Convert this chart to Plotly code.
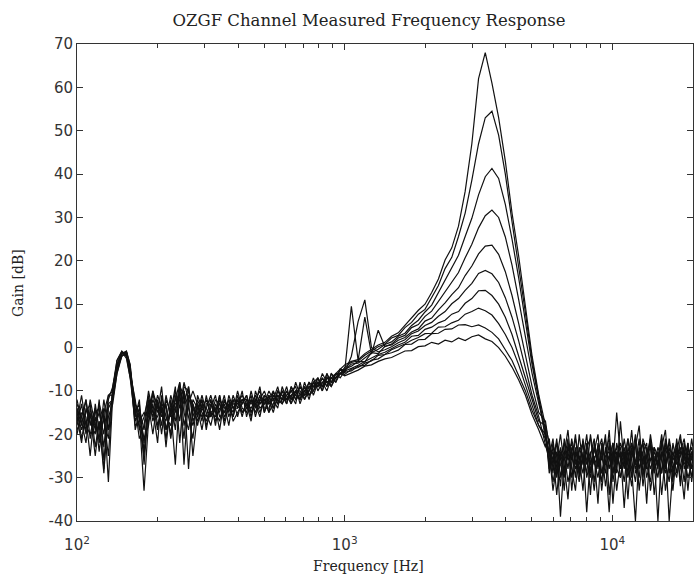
import plotly.graph_objects as go

# Frequency grid (Hz)
freq_low = [100, 104, 108, 112, 117, 121, 126, 131, 136, 141, 147, 153, 158, 165, 171, 178, 185, 192,
            200, 207, 215, 224, 233, 242, 251, 261, 271, 282, 293, 304, 316, 329, 341, 355, 369, 383,
            398, 414, 430, 447, 464, 482, 501, 521, 541, 562, 584, 607, 631, 656, 681, 708, 736, 764,
            794, 825, 858, 891, 926, 962]
freq_mid = [1000, 1059, 1122, 1189, 1259, 1334, 1413, 1496, 1585, 1679, 1778, 1884, 1995, 2113,
            2239, 2371, 2512, 2661, 2818, 2985, 3162, 3350, 3548, 3758, 3981, 4217, 4467, 4732,
            5012, 5309]
freq_high = [5623, 5808, 5998, 6194, 6397, 6607, 6823, 7047, 7278, 7516, 7762, 8017, 8279, 8551,
             8831, 9120, 9419, 9727, 10046, 10375, 10715, 11066, 11429, 11803, 12190, 12589, 13002,
             13428, 13868, 14322, 14791, 15276, 15776, 16293, 16827, 17378, 17947, 18535, 19143,
             19770, 20417]
freq_hz = freq_low + freq_mid + freq_high

# Gain [dB] of each measured channel: low band (60), mid band (30), high band (41)
gain_ch01 = [-14, -18, -12, -21, -16, -24, -15, -11, -10, -4, -1, -1.5, -6, -12, -19, -16,
             -11, -17, -13, -20, -12, -15, -9, -22, -10, -14, -18, -13, -17, -11, -16, -14, -19, -12, -15, -11,
             -14, -10, -16, -12, -13, -9, -15, -11, -14, -10, -12, -9, -13, -10, -12, -8, -11,
             -9, -7, -10, -7, -8, -6, -5,
             -4, -3.2, -2.8, -1.4, -0.3, 0.6, 1.2, 2.6, 3.4, 5.2, 6.8, 8.6, 10, 12.7, 15.8, 20.2, 23, 28, 36, 47,
             62, 68, 61, 53, 43, 31, 21, 9, -2, -11,
             -18, -22, -27, -21, -30, -24, -19, -28, -33, -23, -26, -20, -29, -25, -36, -22, -27, -19, -31, -24,
             -28, -21, -26, -32, -23, -18, -29, -25, -22, -34, -26, -20, -28, -24, -31, -21, -27, -35, -23, -26, -20]
gain_ch02 = [-18, -13, -20, -15, -25, -17, -29, -13, -12, -6, -2, -1, -4, -15, -13, -24,
             -15, -10, -18, -14, -21, -13, -17, -9, -27, -11, -13, -16, -12, -19, -13, -15, -11, -18, -13, -16,
             -11, -15, -13, -17, -10, -13, -12, -15, -10, -13, -10, -13, -9, -12, -11, -10, -8,
             -11, -8, -9, -6, -9, -7, -6,
             -4.6, -3.4, -3.1, -1.8, -0.8, 0.2, 0.8, 2.2, 2.8, 4.6, 5.8, 7.7, 8.8, 11.6, 14.3, 18.2, 20.8, 25.6, 31, 38.6,
             47, 53, 54.5, 49, 40, 29, 19, 8, -3, -12,
             -20, -25, -21, -29, -24, -33, -22, -26, -20, -30, -24, -38, -25, -21, -28, -23, -32, -26, -22, -29,
             -17, -27, -24, -30, -21, -33, -25, -28, -20, -26, -30, -23, -19, -29, -25, -22, -31, -24, -28, -21, -27]
gain_ch03 = [-12, -17, -22, -14, -19, -13, -17, -21, -9, -3, -0.8, -2, -7, -17, -14, -19,
             -12, -14, -22, -11, -16, -18, -12, -8, -15, -19, -12, -14, -19, -13, -12, -17, -14, -13, -18, -12,
             -13, -12, -14, -11, -16, -12, -10, -13, -12, -9, -13, -11, -10, -12, -9, -11, -10,
             -8, -9, -7, -9, -6, -7, -5,
             -5.2, -3.8, -3.6, -2.3, -1.2, -0.4, 0.7, 1.3, 2.6, 3.3, 5.1, 6.3, 8.2, 9.8, 12.7, 15.3, 18.2, 21.3, 25.6, 29.8,
             35.2, 39.4, 41.3, 39, 33, 25, 16, 6, -4, -12,
             -21, -24, -31, -26, -20, -27, -35, -23, -25, -29, -21, -27, -24, -31, -22, -26, -20, -34, -25, -23,
             -30, -26, -21, -28, -40, -24, -22, -27, -31, -23, -25, -29, -22, -26, -33, -24, -20, -28, -25, -30, -23]
gain_ch04 = [-20, -15, -16, -25, -13, -19, -14, -31, -11, -5, -1.2, -1, -5, -13, -16, -33,
             -17, -12, -15, -9, -19, -14, -27, -10, -13, -9, -16, -12, -15, -17, -14, -11, -16, -15, -12, -17,
             -15, -13, -11, -15, -13, -16, -11, -12, -15, -11, -11, -12, -10, -9, -13, -10, -9,
             -10, -8, -8, -10, -7, -6, -7,
             -5.5, 9.5, -3, 7, -1.5, 4, 0.2, 0.8, 2.2, 2.8, 4.6, 5.3, 7.2, 8.4, 10.7, 12.8, 15.2, 17.3, 20.7, 23.8,
             27.6, 30.4, 31.7, 30, 25.5, 19, 11, 2.5, -6, -13,
             -19, -28, -23, -25, -32, -21, -26, -24, -30, -20, -27, -23, -34, -22, -26, -29, -24, -21, -27, -15,
             -25, -31, -23, -26, -20, -28, -24, -36, -22, -27, -24, -29, -21, -25, -28, -23, -32, -22, -26, -24, -29]
gain_ch05 = [-16, -22, -14, -17, -20, -12, -26, -16, -13, -6, -1.5, -0.8, -4, -19, -15, -22,
             -13, -20, -12, -16, -13, -21, -14, -11, -10, -28, -13, -18, -13, -14, -16, -12, -13, -17, -11, -14,
             -12, -16, -12, -13, -11, -14, -13, -10, -12, -14, -9, -12, -11, -13, -8, -12, -10,
             -7, -10, -8, -7, -8, -6, -6,
             -5, -4.3, -3.2, -3.3, -1.2, -1.4, 0.3, 0.6, 1.7, 2.3, 3.6, 4.3, 6.1, 6.8, 8.7, 10.3, 12.2, 13.8, 16.6, 18.8,
             21.6, 23.4, 23.6, 21.5, 17.5, 12, 5.5, -2, -9, -15,
             -17, -23, -29, -22, -26, -24, -31, -27, -21, -25, -33, -22, -27, -24, -20, -29, -26, -38, -23, -27,
             -22, -25, -30, -24, -27, -21, -32, -25, -23, -28, -26, -22, -33, -27, -24, -29, -21, -25, -30, -27, -24]
gain_ch06 = [-13, -16, -19, -12, -18, -21, -12, -19, -10, -4, -1.8, -1.5, -6, -14, -21, -18,
             -10, -15, -16, -12, -23, -12, -19, -9, -11, -16, -21, -11, -14, -16, -12, -18, -12, -14, -13, -15,
             -10, -14, -15, -10, -14, -11, -15, -12, -10, -13, -12, -10, -12, -8, -11, -9, -12,
             -8, -7, -9, -8, -7, -8, -5,
             -5.8, -2, 6, 11, 0, -1, -0.5, 0.2, 1.1, 1.8, 3.2, 3.8, 5.1, 5.8, 7.2, 8.3, 10.1, 11.3, 13.2, 14.8,
             17.1, 17.8, 17, 15, 11.5, 7, 1.5, -4.5, -11, -16,
             -22, -26, -24, -34, -25, -22, -28, -21, -26, -31, -25, -29, -20, -26, -30, -24, -21, -28, -24, -33,
             -26, -23, -29, -22, -26, -30, -21, -24, -28, -25, -40, -24, -27, -23, -29, -25, -24, -31, -22, -28, -25]
gain_ch07 = [-17, -11, -18, -20, -15, -14, -23, -12, -9, -4, -1, -2, -5, -16, -12, -27,
             -14, -11, -13, -18, -11, -16, -10, -14, -8, -12, -25, -15, -11, -15, -18, -13, -15, -11, -16, -13,
             -13, -11, -13, -14, -12, -10, -14, -14, -11, -12, -10, -11, -13, -10, -10, -12, -9,
             -9, -9, -6, -8, -9, -6, -6,
             -5.4, -4.8, -4.1, -3.2, -2.4, -1.6, -1.1, -0.2, 0.6, 1.2, 2.6, 2.8, 4.2, 4.7, 5.7, 6.3, 7.7, 8.3, 10.2, 11.3,
             13.1, 13.2, 12, 10, 7, 3, -2, -7, -12.5, -17,
             -18, -29, -25, -22, -27, -30, -23, -25, -28, -24, -22, -30, -26, -33, -24, -21, -27, -25, -29, -22,
             -26, -24, -35, -23, -28, -25, -22, -30, -26, -23, -28, -21, -26, -31, -22, -27, -25, -23, -33, -24, -26]
gain_ch08 = [-15, -19, -15, -13, -23, -17, -28, -14, -12, -5, -2, -1.2, -6, -18, -17, -15,
             -16, -13, -19, -13, -14, -20, -11, -17, -9, -10, -14, -17, -14, -12, -15, -16, -11, -16, -14, -12,
             -16, -12, -12, -16, -12, -13, -11, -15, -13, -10, -11, -13, -9, -11, -12, -9, -11,
             -10, -7, -9, -7, -7, -7, -6,
             -6.2, -5, -4.6, -3.6, -3.1, -1.8, -1.6, -0.5, 0.2, 0.8, 1.7, 2.3, 3.2, 3.3, 4.7, 4.8, 5.7, 6.3, 7.7, 8.3,
             9.1, 8.5, 7.5, 5.5, 3, 0, -4, -8.5, -13.5, -18,
             -21, -24, -33, -27, -23, -29, -24, -22, -27, -25, -29, -23, -21, -27, -25, -31, -23, -26, -22, -28,
             -30, -24, -27, -19, -29, -26, -24, -22, -33, -27, -23, -26, -29, -21, -26, -24, -28, -26, -22, -31, -23]
gain_ch09 = [-19, -16, -12, -18, -14, -22, -16, -25, -10, -3, -1, -2.5, -7, -13, -15, -21,
             -18, -10, -14, -15, -17, -11, -15, -8, -18, -13, -10, -13, -16, -14, -11, -15, -17, -12, -14, -16,
             -12, -15, -14, -12, -15, -12, -13, -11, -14, -12, -13, -10, -12, -11, -9, -11, -8,
             -9, -8, -10, -6, -8, -7, -6,
             -5.7, -5.4, -4.3, -4.1, -2.9, -2.6, -1.6, -1.2, -0.6, 0.7, 0.8, 1.8, 1.9, 3.2, 3.3, 4.2, 4.3, 5.2, 5.3, 4.8,
             5.2, 4.5, 3.5, 2, -0.5, -3, -6.5, -10, -14.5, -18,
             -20, -27, -22, -30, -24, -26, -21, -33, -24, -27, -22, -26, -30, -23, -27, -25, -29, -22, -36, -25,
             -23, -28, -21, -26, -31, -23, -27, -25, -21, -29, -24, -34, -25, -22, -27, -30, -24, -21, -27, -25, -30]
gain_ch10 = [-14, -21, -17, -16, -18, -15, -20, -11, -11, -5, -1.5, -1, -5, -15, -18, -25,
             -12, -16, -11, -14, -19, -15, -13, -12, -21, -9, -17, -14, -12, -18, -15, -14, -13, -15, -12, -14,
             -14, -13, -11, -15, -12, -15, -12, -13, -12, -11, -12, -12, -11, -10, -12, -10, -10,
             -8, -9, -7, -9, -6, -8, -6,
             -6.5, -5.9, -5.2, -4.3, -4, -3.2, -2.6, -2.3, -1.5, -0.8, -0.7, 0.2, 0.4, 1.2, 0.8, 1.7, 1.3, 2.2, 1.6, 2.5,
             2.9, 2, 1.4, 0, -2, -4.5, -7.5, -11, -15.5, -19,
             -23, -21, -28, -24, -39, -26, -24, -30, -23, -28, -26, -24, -28, -26, -23, -33, -25, -24, -29, -26,
             -24, -37, -25, -22, -27, -24, -30, -23, -26, -24, -27, -25, -23, -40, -28, -26, -23, -27, -25, -23, -28]

channels = [gain_ch01, gain_ch02, gain_ch03, gain_ch04, gain_ch05,
            gain_ch06, gain_ch07, gain_ch08, gain_ch09, gain_ch10]

major_x = [100, 1000, 10000]
major_x_text = ["10<sup>2</sup>", "10<sup>3</sup>", "10<sup>4</sup>"]
minor_x = [200, 300, 400, 500, 600, 700, 800, 900,
           2000, 3000, 4000, 5000, 6000, 7000, 8000, 9000, 20000]
y_ticks = [-40, -30, -20, -10, 0, 10, 20, 30, 40, 50, 60, 70]
y_tick_text = ["-40", "-30", "-20", "-10", "0", "10", "20", "30", "40", "50", "60", "70"]

fig = go.Figure()
for g in channels:
    fig.add_trace(go.Scatter(x=freq_hz, y=g, mode="lines",
                             line=dict(color="#111111", width=1.2), hoverinfo="skip"))

tick_font = dict(family="DejaVu Sans", size=15, color="#333333")
label_font = dict(family="DejaVu Serif", size=14, color="#222222")

fig.update_layout(
    width=694, height=580,
    margin=dict(l=77, r=1, t=44, b=59),
    paper_bgcolor="white", plot_bgcolor="white",
    showlegend=False,
    title=dict(text="OZGF Channel Measured Frequency Response",
               font=dict(family="DejaVu Serif", size=16.5, color="#222222"),
               x=369 / 694, xref="container", xanchor="center",
               y=1 - 20 / 580, yref="container", yanchor="middle"),
    xaxis=dict(type="log", range=[2, 4.30103], showgrid=False, zeroline=False,
               showline=True, linecolor="#333333", linewidth=1, mirror="allticks",
               ticks="inside", ticklen=6, tickcolor="#333333", ticklabelstandoff=10,
               tickvals=major_x, ticktext=major_x_text, tickfont=tick_font,
               minor=dict(tickvals=minor_x, ticks="inside", ticklen=4, tickcolor="#333333",
                          showgrid=False)),
    yaxis=dict(range=[-40, 70], showgrid=False, zeroline=False,
               showline=True, linecolor="#333333", linewidth=1, mirror="allticks",
               ticks="inside", ticklen=6, tickcolor="#333333",
               tickvals=y_ticks, ticktext=y_tick_text, tickfont=tick_font),
    annotations=[
        dict(text="Frequency [Hz]", xref="paper", yref="paper",
             x=(368 - 77) / 616, y=-(566 - 521) / 477, xanchor="center", yanchor="middle",
             showarrow=False, font=label_font),
        dict(text="Gain [dB]", xref="paper", yref="paper",
             x=(18 - 77) / 616, y=(521 - 283) / 477, xanchor="center", yanchor="middle",
             textangle=-90, showarrow=False, font=label_font),
    ],
)

fig.write_html("out.html")
